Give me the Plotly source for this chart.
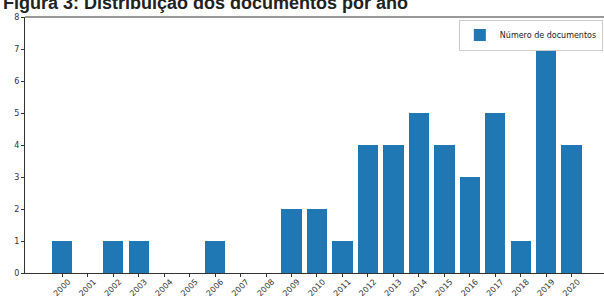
import plotly.graph_objects as go

years = [str(y) for y in range(2000, 2021)]
counts = [1, 0, 1, 1, 0, 0, 1, 0, 0, 2, 2, 1, 4, 4, 5, 4, 3, 5, 1, 7, 4]
y_ticks = [0, 1, 2, 3, 4, 5, 6, 7, 8]

x_num = list(range(2000, 2021))

fig = go.Figure()
fig.add_trace(go.Bar(
    x=x_num, y=counts, width=0.8,
    marker=dict(color="#1f77b4", line=dict(width=0)),
    name="Número de documentos", showlegend=True,
))

fig.update_layout(
    width=604, height=298,
    margin=dict(l=25, r=0, t=17, b=25, autoexpand=False),
    paper_bgcolor="white", plot_bgcolor="white",
    font=dict(family="DejaVu Sans", size=9, color="#333333"),
    showlegend=True,
    legend=dict(
        x=0.998, xanchor="right", y=0.99, yanchor="top",
        bgcolor="white", bordercolor="#cccccc", borderwidth=1,
        font=dict(family="DejaVu Sans", size=8, color="#222222"),
        itemsizing="constant", tracegroupgap=0, itemwidth=30,
    ),
    bargap=0,
)
fig.add_annotation(
    text="<b>Figura 3: Distribuição dos documentos por ano</b>",
    font=dict(family="Liberation Sans", size=18, color="#222222"),
    xref="paper", yref="paper", x=-25/579, xanchor="left", xshift=1,
    y=1, yanchor="bottom", yshift=2, showarrow=False,
)
fig.update_xaxes(
    range=[1998.536, 2021.27],
    tickmode="array", tickvals=x_num, ticktext=years,
    tickangle=-45, ticks="outside", ticklen=3, tickcolor="#333333",
    showline=True, linecolor="#333333", linewidth=1, mirror=False,
    showgrid=False, zeroline=False, automargin=False,
    tickfont=dict(family="DejaVu Sans", size=8, color="#333333"),
    ticklabelshift=6, ticklabelstandoff=-3,
)
fig.update_yaxes(
    range=[0, 8], tickmode="array", tickvals=y_ticks,
    ticks="outside", ticklen=3, tickcolor="#333333",
    showline=True, linecolor="#333333", linewidth=1, mirror=False,
    showgrid=False, zeroline=False, automargin=False,
    tickfont=dict(family="DejaVu Sans", size=8, color="#333333"),
)
# top spine
fig.add_shape(type="line", xref="paper", yref="paper", x0=0, x1=1, y0=1, y1=1,
              line=dict(color="#333333", width=1))

fig.write_html("out.html", config={"displayModeBar": False},
               post_script="document.body.style.margin='0';document.body.style.overflow='hidden';")
